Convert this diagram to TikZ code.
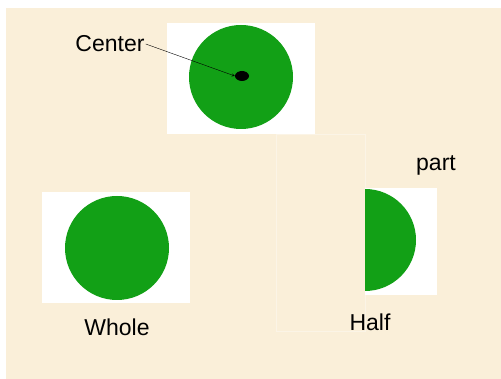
\documentclass[tikz,border=0pt]{standalone}
\usepackage{fontspec}
\setmainfont{Liberation Sans}
\usetikzlibrary{shapes.geometric}
\definecolor{parchment}{RGB}{250,239,217}
\definecolor{leafgreen}{RGB}{18,160,22}
\tikzset{
    disc/.style={circle, fill=leafgreen, minimum size=104pt, inner sep=0pt},
    tag/.style={font=\fontsize{23}{27}\selectfont, inner sep=1pt},
}
\begin{document}
\begin{tikzpicture}[x=1pt,y=1pt]
    \useasboundingbox (0,0) rectangle (501,379);
    % parchment background
    \fill[parchment] (6,0) rectangle (501,371);

    % Whole circle with its center
    \begin{scope}
        \fill[white] (167,245) rectangle (315,356);
        \node[disc] (whole top) at (241,302) {};
        \node[ellipse, fill=black, minimum width=14pt, minimum height=10pt, inner sep=0pt] (dot) at (242,303) {};
        \node[tag] (centre) at (110,335) {Center};
        \draw[->, >=stealth, thin] (centre.east) -- (dot.west);
    \end{scope}

    % faint frame between the two
    \draw[white, opacity=0.35, very thin] (276,48) rectangle (365,245);

    % Whole
    \begin{scope}
        \fill[white] (42,76) rectangle (190,187);
        \node[disc] (whole) at (117,131) {};
        \node[tag] (whole label) at (117,52) {Whole};
    \end{scope}

    % Half
    \begin{scope}
        \fill[white] (365,84) rectangle (437,191);
        \fill[leafgreen] (365,190) arc (90:-90:51) -- cycle;
        \coordinate (half) at (365,139);
        \node[tag] (half label) at (370,57) {Half};
        \node[tag] (part label) at (436,214) {part};
    \end{scope}
\end{tikzpicture}
\end{document}
